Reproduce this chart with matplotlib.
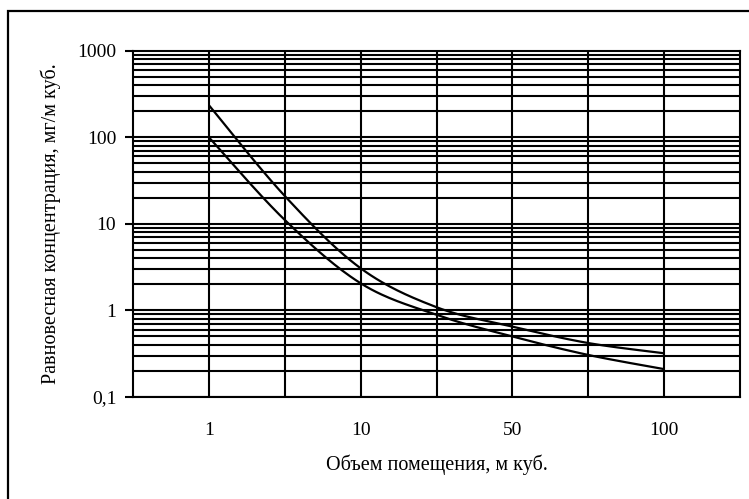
import numpy as np
import matplotlib
matplotlib.use("Agg")
import matplotlib.pyplot as plt
from matplotlib.patches import Rectangle

# ---- data ----
x_positions = [1, 2, 3, 4, 5, 6, 7]
upper_values = [235, 21, 3.07, 1.09, 0.65, 0.42, 0.32]
lower_values = [100, 11.1, 2.06, 0.89, 0.50, 0.306, 0.21]
x_tick_pos = [1, 3, 5, 7]
x_tick_labels = ["1", "10", "50", "100"]
y_ticks = [0.1, 1, 10, 100, 1000]
y_tick_labels = ["0,1", "1", "10", "100", "1000"]
x_label = "Объем помещения, м куб."
y_label = "Равновесная концентрация, мг/м куб."

plt.rcParams['font.family'] = ['Liberation Serif', 'DejaVu Serif']

fig = plt.figure(figsize=(7.49, 4.99), dpi=100)
W, H = 749, 499
ax = fig.add_axes([133 / W, 1 - 397 / H, (740 - 133) / W, (397 - 50.7) / H])

ax.set_yscale('log')
ax.set_ylim(0.1, 1000)
ax.set_xlim(0, 8)

lw = 1.5
# horizontal gridlines (major + minor)
for d in [0.1, 1, 10, 100]:
    for m in range(1, 10):
        v = d * m
        ax.axhline(v, color='black', lw=lw, zorder=1)
# vertical gridlines
for xv in range(1, 8):
    ax.axvline(xv, color='black', lw=lw, zorder=1)


def smooth(xs, ys, n=30):
    xs = np.asarray(xs, float)
    ly = np.log10(np.asarray(ys, float))
    px, py = [], []
    N = len(xs)
    for i in range(N - 1):
        p0 = (xs[max(i - 1, 0)], ly[max(i - 1, 0)])
        p1 = (xs[i], ly[i])
        p2 = (xs[i + 1], ly[i + 1])
        p3 = (xs[min(i + 2, N - 1)], ly[min(i + 2, N - 1)])
        c1 = (p1[0] + (p2[0] - p0[0]) / 6, p1[1] + (p2[1] - p0[1]) / 6)
        c2 = (p2[0] - (p3[0] - p1[0]) / 6, p2[1] - (p3[1] - p1[1]) / 6)
        t = np.linspace(0, 1, n)
        bx = (1 - t) ** 3 * p1[0] + 3 * (1 - t) ** 2 * t * c1[0] + 3 * (1 - t) * t ** 2 * c2[0] + t ** 3 * p2[0]
        by = (1 - t) ** 3 * p1[1] + 3 * (1 - t) ** 2 * t * c1[1] + 3 * (1 - t) * t ** 2 * c2[1] + t ** 3 * p2[1]
        px.extend(bx)
        py.extend(by)
    return np.array(px), 10 ** np.array(py)


for vals in (upper_values, lower_values):
    sx, sy = smooth(x_positions, vals)
    ax.plot(sx, sy, color='black', lw=1.6, zorder=3, solid_capstyle='butt')

ax.set_yticks(y_ticks)
ax.set_yticklabels(y_tick_labels)
ax.yaxis.set_minor_locator(matplotlib.ticker.NullLocator())
ax.set_xticks(x_tick_pos)
ax.set_xticklabels(x_tick_labels)
ax.tick_params(axis='x', length=0, pad=18, labelsize=14)
ax.tick_params(axis='y', direction='out', length=6, width=lw, pad=6, labelsize=14)

for s in ax.spines.values():
    s.set_linewidth(lw)
    s.set_color('black')

ax.set_xlabel(x_label, fontsize=14.5, labelpad=11)
ax.set_ylabel(y_label, fontsize=14.5, labelpad=12)

# outer frame
fig.patches.append(Rectangle((8 / W, -0.1), 1.2, 1 - 11 / H + 0.1, transform=fig.transFigure,
                             fill=False, edgecolor='black', lw=1.6, zorder=0))

fig.savefig("out.png", dpi=100)
